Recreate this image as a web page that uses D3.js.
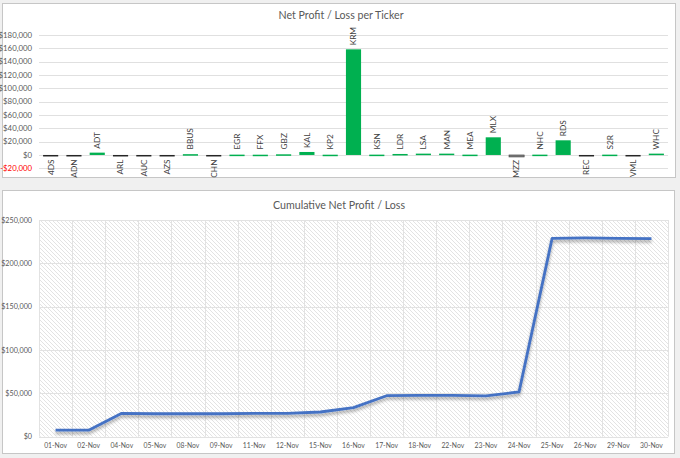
<!DOCTYPE html>
<html><head><meta charset="utf-8">
<script src="https://cdn.jsdelivr.net/npm/d3@7"></script>
<style>
html,body{margin:0;padding:0;background:#f0f0f0;}
svg{display:block;font-family:Lato, "Open Sans", sans-serif;}
</style></head><body>
<svg id="c" width="680" height="458"></svg>
<script>
const tickers = ["4DS","ADN","ADT","ARL","AUC","AZS","BBUS","CHN","EGR","FFX","GBZ","KAL","KP2","KRM","KSN","LDR","LSA","MAN","MEA","MLX","MZZ","NHC","RDS","REC","S2R","VML","WHC"];
const profits = [-1500,-1500,3500,-1500,-1500,-1500,1200,-1500,500,400,1000,4500,400,158500,500,1500,2000,2000,500,26500,-3000,500,22000,-1500,500,-1500,2000];
const barTicks = [-20000,0,20000,40000,60000,80000,100000,120000,140000,160000,180000];

const dates = ["01-Nov","02-Nov","04-Nov","05-Nov","08-Nov","09-Nov","11-Nov","12-Nov","15-Nov","16-Nov","17-Nov","18-Nov","22-Nov","23-Nov","24-Nov","25-Nov","26-Nov","29-Nov","30-Nov"];
const cumulative = [7500,7500,27000,26500,26500,26500,27000,27000,28500,33500,47300,47700,47700,47000,51600,228900,229300,228900,228500];
const lineTicks = [0,50000,100000,150000,200000,250000];

const svg = d3.select("#c");
const defs = svg.append("defs");
const pat = defs.append("pattern").attr("id","hatch").attr("patternUnits","userSpaceOnUse")
  .attr("width",4).attr("height",4);
pat.append("rect").attr("width",4).attr("height",4).attr("fill","#ffffff");
pat.append("path").attr("d","M-1,-1 L5,5 M-1,3 L1,5 M3,-1 L5,1").attr("stroke","#dcdcdc").attr("stroke-width",0.8);
const flt = defs.append("filter").attr("id","shadow").attr("x","-10%").attr("y","-10%").attr("width","120%").attr("height","140%");
flt.append("feDropShadow").attr("dx",0).attr("dy",2.5).attr("stdDeviation",1.5).attr("flood-color","#000").attr("flood-opacity",0.35);

const fmt = v => (v<0?"-":"") + "$" + d3.format(",")(Math.abs(v));

// ---------- Top panel ----------
svg.append("rect").attr("x",2.5).attr("y",3.5).attr("width",673).attr("height",174).attr("fill","#fff").attr("stroke","#c6c6c6");
svg.append("text").attr("x",341).attr("y",18.5).attr("text-anchor","middle").attr("font-size",12)
  .attr("textLength",125).attr("lengthAdjust","spacingAndGlyphs").attr("fill","#595959").text("Net Profit / Loss per Ticker");

const x1 = d3.scaleBand().domain(tickers).range([39,668]).paddingInner(0.35).paddingOuter(0.175);
const y1 = d3.scaleLinear().domain([-20000,180000]).range([168.3,35]);

const g1 = svg.append("g");
g1.append("g").selectAll("line").data(barTicks).join("line")
  .attr("x1",39).attr("x2",668).attr("y1",d=>Math.round(y1(d))+0.5).attr("y2",d=>Math.round(y1(d))+0.5)
  .attr("stroke","#e0e0e0").attr("stroke-width",1);
g1.append("g").selectAll("text").data(barTicks).join("text")
  .attr("x",32).attr("y",d=>y1(d)).attr("dy","0.35em").attr("text-anchor","end")
  .attr("font-size",7.8).attr("fill",d=>d<0?"#ff0000":"#595959").text(fmt);

g1.append("g").selectAll("rect").data(tickers).join("rect")
  .attr("x",d=>x1(d)).attr("width",x1.bandwidth())
  .attr("y",(d,i)=>profits[i]>=0?y1(profits[i]):y1(0))
  .attr("height",(d,i)=>Math.max(1.5,Math.abs(y1(profits[i])-y1(0))))
  .attr("fill",(d,i)=>profits[i]>=0?"#00b050":(d==="MZZ"?"#7f7f7f":"#262626"))
  .attr("stroke",(d,i)=>d==="MZZ"?"#404040":"none").attr("stroke-width",0.6);

g1.append("g").selectAll("text").data(tickers).join("text")
  .attr("transform",(d,i)=>{
    const cx = x1(d)+x1.bandwidth()/2;
    const v = profits[i];
    const yy = v>=0 ? Math.min(y1(v),y1(0)-1.5)-4 : Math.max(y1(v),y1(0)+1.5)+3;
    return `translate(${cx},${yy}) rotate(-90)`;
  })
  .attr("text-anchor",(d,i)=>profits[i]>=0?"start":"end")
  .attr("dy","0.35em").attr("font-size",8.3).attr("fill","#404040").text(d=>d);

// ---------- Bottom panel ----------
svg.append("rect").attr("x",2.5).attr("y",190.5).attr("width",672).attr("height",263).attr("fill","#fff").attr("stroke","#c6c6c6");
svg.append("text").attr("x",339).attr("y",208.5).attr("text-anchor","middle").attr("font-size",12)
  .attr("textLength",132).attr("lengthAdjust","spacingAndGlyphs").attr("fill","#595959").text("Cumulative Net Profit / Loss");

const x2 = d3.scaleBand().domain(dates).range([39,668]);
const y2 = d3.scaleLinear().domain([0,250000]).range([436.7,220]);

const g2 = svg.append("g");
g2.append("rect").attr("x",39).attr("y",y2(250000)).attr("width",629).attr("height",y2(0)-y2(250000)).attr("fill","url(#hatch)");
g2.append("g").selectAll("line").data(lineTicks).join("line")
  .attr("x1",39).attr("x2",668).attr("y1",d=>Math.round(y2(d))+0.5).attr("y2",d=>Math.round(y2(d))+0.5)
  .attr("stroke","#e2e2e2");
const bounds = dates.map(d=>x2(d)).concat([668]);
g2.append("g").selectAll("line").data(bounds).join("line")
  .attr("x1",d=>Math.round(d)+0.5).attr("x2",d=>Math.round(d)+0.5).attr("y1",y2(250000)).attr("y2",y2(0))
  .attr("stroke","#e2e2e2");
g2.append("g").selectAll("text").data(lineTicks).join("text")
  .attr("x",32).attr("y",d=>y2(d)).attr("dy","0.35em").attr("text-anchor","end")
  .attr("font-size",7.2).attr("fill","#595959").text(fmt);
g2.append("g").selectAll("text").data(dates).join("text")
  .attr("x",d=>x2(d)+x2.bandwidth()/2).attr("y",446).attr("dy","0.35em").attr("text-anchor","middle")
  .attr("font-size",6.8).attr("fill","#595959").text(d=>d);

const line = d3.line().x((d,i)=>x2(dates[i])+x2.bandwidth()/2).y(d=>y2(d));
g2.append("path").datum(cumulative).attr("d",line).attr("fill","none")
  .attr("stroke","#4472c4").attr("stroke-width",2.8).attr("stroke-linejoin","round").attr("filter","url(#shadow)");
</script>
</body></html>
